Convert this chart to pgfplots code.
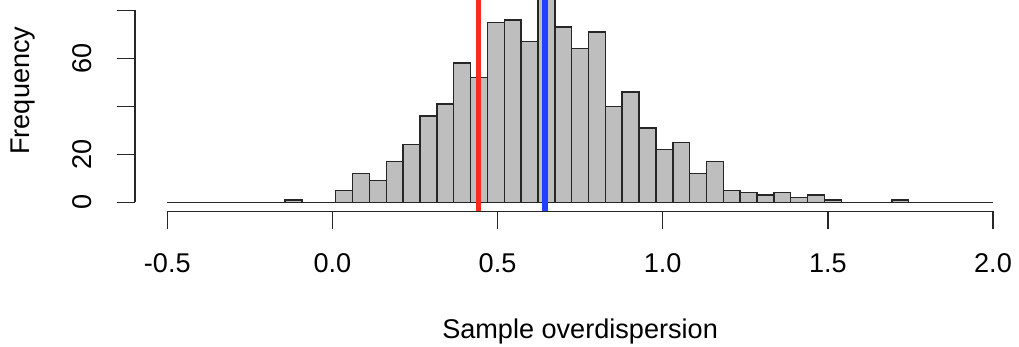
\documentclass[border=0pt]{standalone}
\usepackage{fontspec}
\setmainfont{Liberation Sans}
\usepackage{pgfplots}
\pgfplotsset{compat=1.18}
\usepackage{pgfplotstable}
\definecolor{histgray}{HTML}{BEBEBE}
\definecolor{rline}{HTML}{FA2A1E}
\definecolor{bline}{HTML}{2240FF}

\pgfplotstableread{
edge count
-0.50000 0
-0.44898 0
-0.39796 0
-0.34694 0
-0.29592 0
-0.24490 0
-0.19388 0
-0.14286 1
-0.09184 0
-0.04082 0
0.01020 5
0.06122 12
0.11224 9
0.16327 17
0.21429 24
0.26531 36
0.31633 41
0.36735 58
0.41837 52
0.46939 75
0.52041 76
0.57143 67
0.62245 93
0.67347 73
0.72449 64
0.77551 71
0.82653 40
0.87755 46
0.92857 31
0.97959 22
1.03061 25
1.08163 12
1.13265 17
1.18367 5
1.23469 4
1.28571 3
1.33673 4
1.38776 2
1.43878 3
1.48980 1
1.54082 0
1.59184 0
1.64286 0
1.69388 1
1.74490 0
1.79592 0
1.84694 0
1.89796 0
1.94898 0
2.00000 0
}\histdata

\begin{document}
\fontsize{13.55}{16}\selectfont
\begin{tikzpicture}
% main plot region (histogram + vertical lines)
\begin{axis}[
  at={(67.1pt,67.9pt)}, anchor=south west, scale only axis,
  width=445.88pt, height=120.53pt,
  xmin=-0.6, xmax=2.1, ymin=-3.72, ymax=96.72,
  axis line style={draw=none}, xtick=\empty, ytick=\empty,
  clip=false,
  xlabel={Sample overdispersion}, ylabel={Frequency},
  every axis x label/.style={at={(axis description cs:0.5,-0.5273)}, anchor=base},
  every axis y label/.style={at={(axis description cs:-0.1176,0.5)}, anchor=base, rotate=90},
]
\addplot[ybar interval, fill=histgray, draw=black!85, line width=0.75pt]
  table[x=edge, y=count] {\histdata};
\addplot[rline, line width=2.6pt] coordinates {(0.4416,-3.72) (0.4416,96.72)};
\addplot[bline, line width=2.6pt] coordinates {(0.6436,-3.72) (0.6436,96.72)};
\end{axis}
% y axis (0..80)
\begin{axis}[
  at={(67.5pt,72.35pt)}, anchor=south west, scale only axis,
  width=1pt, height=96pt,
  xmin=0, xmax=1, ymin=0, ymax=80,
  axis y line=left, axis x line=none,
  axis line style={-, black!85, line width=0.75pt},
  xtick=\empty, ytick={0,20,40,60,80}, yticklabels={0,20,,60,},
  tick align=outside, major tick length=9pt,
  tick style={black!85, line width=0.75pt},
  yticklabel style={rotate=90, anchor=south, inner sep=0pt},
  yticklabel shift=12.65pt,
]
\end{axis}
% x axis (-0.5..2.0)
\begin{axis}[
  at={(83.65pt,67.75pt)}, anchor=south west, scale only axis,
  width=412.85pt, height=10pt,
  xmin=-0.5, xmax=2.0, ymin=0, ymax=1,
  axis x line=bottom, axis y line=none,
  axis line style={-, black!85, line width=0.75pt},
  ytick=\empty, xtick={-0.5,0,0.5,1,1.5,2},
  xticklabels={-0.5,0.0,0.5,1.0,1.5,2.0},
  tick align=outside, major tick length=8.8pt,
  tick style={black!85, line width=0.75pt},
  xticklabel style={anchor=north, inner sep=0pt},
  xticklabel shift=12.1pt,
]
\end{axis}
\pgfresetboundingbox
\useasboundingbox (0,0) rectangle (509.5pt,173.5pt);
\end{tikzpicture}
\end{document}
